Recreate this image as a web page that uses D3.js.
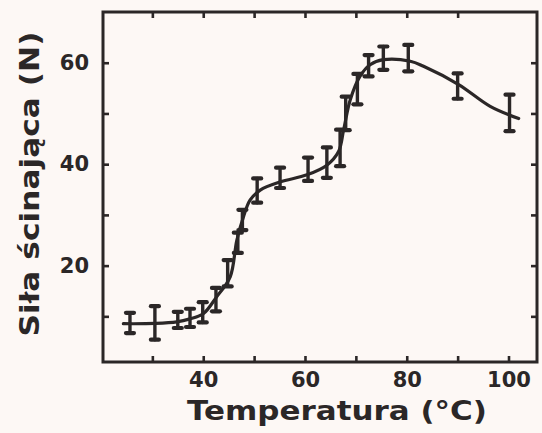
<!DOCTYPE html>
<html><head><meta charset="utf-8">
<script src="https://cdn.jsdelivr.net/npm/d3@7"></script>
<style>
html,body{margin:0;padding:0;background:#fdf8f5;}
svg{display:block;}
</style></head>
<body>
<svg id="c" width="542" height="433"></svg>
<script>
// Data
const temperature = [25.6, 30.5, 35.0, 37.4, 39.9, 42.5, 44.8, 46.8, 47.7, 50.6, 55.1, 60.6, 64.3, 66.9, 68.0, 70.3, 72.5, 75.4, 80.3, 90.0, 100.2];
const force       = [8.7, 8.7, 9.3, 9.7, 10.8, 13.3, 18.5, 24.5, 29.0, 34.8, 37.3, 39.0, 40.3, 43.2, 50.0, 54.8, 59.4, 60.9, 60.9, 55.4, 50.1];
const forceErr    = [2.0, 3.3, 1.6, 1.8, 2.0, 2.3, 2.6, 2.0, 2.0, 2.4, 2.0, 2.3, 3.0, 3.6, 3.3, 3.0, 2.1, 2.3, 2.6, 2.5, 3.6];
// Smooth fitted curve
const fitT = [24.3, 30.5, 34.8, 37.4, 40.0, 42.6, 45.3, 46.6, 47.9, 49.2, 51.2, 55.1, 60.4, 64.3, 66.6, 67.6, 68.9, 70.8, 72.8, 75.4, 80.7, 83.3, 90.2, 96.4, 102.0];
const fitV = [8.55, 8.6, 8.9, 9.5, 10.5, 13.8, 17.8, 25.0, 29.6, 32.9, 34.9, 36.5, 37.9, 39.8, 42.5, 46.8, 52.7, 57.3, 59.6, 60.6, 60.3, 59.3, 55.7, 51.4, 49.0];
const xTicks = [30, 40, 50, 60, 70, 80, 90, 100];
const xTopTicks = [30, 40, 50, 60, 70, 80, 90];
const xLabels = [40, 60, 80, 100];
const yTicks = [10, 20, 30, 40, 50, 60];
const yLabels = [20, 40, 60];
const xTitle = "Temperatura (°C)";
const yTitle = "Siła ścinająca (N)";

const ink = "#2b2727";
const font = "'DejaVu Sans', Verdana, sans-serif";
const svg = d3.select("#c");
const L = 103, R = 537, T = 12, B = 362;
const x = d3.scaleLinear().domain([20.3, 105.6]).range([L, R]);
const y = d3.scaleLinear().domain([1, 70]).range([B, T]);

// Axes with inward ticks
const tickLen = 6;
const gB = svg.append("g").attr("transform", `translate(0,${B})`)
  .call(d3.axisBottom(x).tickValues(xTicks).tickSizeInner(-tickLen).tickSizeOuter(0).tickPadding(10)
    .tickFormat(d => xLabels.includes(d) ? d : ""));
const gT = svg.append("g").attr("transform", `translate(0,${T})`)
  .call(d3.axisTop(x).tickValues(xTopTicks).tickSizeInner(-tickLen).tickSizeOuter(0).tickFormat(""));
const gL = svg.append("g").attr("transform", `translate(${L},0)`)
  .call(d3.axisLeft(y).tickValues(yTicks).tickSizeInner(-tickLen).tickSizeOuter(0).tickPadding(14)
    .tickFormat(d => yLabels.includes(d) ? d : ""));
const gR = svg.append("g").attr("transform", `translate(${R},0)`)
  .call(d3.axisRight(y).tickValues(yTicks).tickSizeInner(-tickLen).tickSizeOuter(0).tickFormat(""));
[gB, gT, gL, gR].forEach(g => {
  g.select(".domain").remove();
  g.selectAll(".tick line").attr("stroke", ink).attr("stroke-width", 2.6);
  g.selectAll(".tick text").attr("fill", ink).attr("font-family", font)
    .attr("font-weight", "bold").attr("font-size", 21);
});

// Frame
svg.append("rect").attr("x", L).attr("y", T).attr("width", R - L).attr("height", B - T)
  .attr("fill", "none").attr("stroke", ink).attr("stroke-width", 3);

// Fitted curve
const fit = fitT.map((t, i) => [t, fitV[i]]);
svg.append("path").datum(fit)
  .attr("d", d3.line().x(d => x(d[0])).y(d => y(d[1])).curve(d3.curveCatmullRom.alpha(0.5)))
  .attr("fill", "none").attr("stroke", ink).attr("stroke-width", 3.2).attr("stroke-linecap", "round");

// Error bars
const pts = temperature.map((t, i) => ({t, v: force[i], e: forceErr[i]}));
const eb = svg.append("g").attr("stroke", ink).attr("stroke-linecap", "round");
eb.selectAll("line.v").data(pts).join("line").attr("class", "v")
  .attr("x1", d => x(d.t)).attr("x2", d => x(d.t))
  .attr("y1", d => y(d.v + d.e)).attr("y2", d => y(d.v - d.e)).attr("stroke-width", 3.4);
const cap = 4;
["top", "bot"].forEach(k => {
  eb.selectAll("line." + k).data(pts).join("line").attr("class", k)
    .attr("x1", d => x(d.t) - cap).attr("x2", d => x(d.t) + cap)
    .attr("y1", d => y(k === "top" ? d.v + d.e : d.v - d.e))
    .attr("y2", d => y(k === "top" ? d.v + d.e : d.v - d.e))
    .attr("stroke-width", 4.2);
});

// Titles
svg.append("text").attr("x", 337).attr("y", 420).attr("text-anchor", "middle")
  .attr("font-family", font).attr("font-weight", "bold").attr("font-size", 26).attr("fill", ink)
  .attr("textLength", 300).attr("lengthAdjust", "spacingAndGlyphs")
  .text(xTitle);
svg.append("text").attr("transform", "translate(39,184) rotate(-90)").attr("text-anchor", "middle")
  .attr("font-family", font).attr("font-weight", "bold").attr("font-size", 27).attr("fill", ink)
  .attr("textLength", 305).attr("lengthAdjust", "spacingAndGlyphs")
  .text(yTitle);
</script>
</body></html>
